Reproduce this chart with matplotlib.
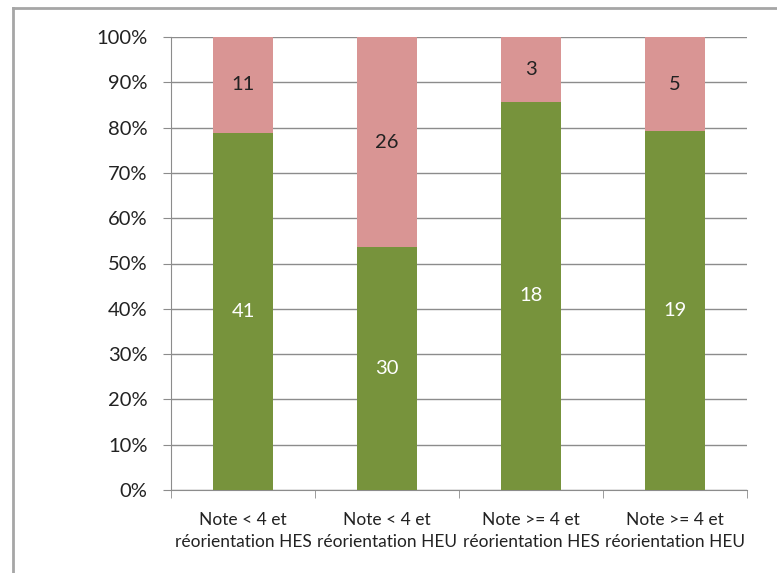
import numpy as np
import matplotlib
matplotlib.use("Agg")
from matplotlib import pyplot as plt
from matplotlib.lines import Line2D

categories = ["Note < 4 et\nréorientation HES", "Note < 4 et\nréorientation HEU",
              "Note >= 4 et\nréorientation HES", "Note >= 4 et\nréorientation HEU"]
oui = np.array([41, 30, 18, 19])
non = np.array([11, 26, 3, 5])
yticks = np.arange(0, 101, 10)

plt.rcParams['font.family'] = ['Lato', 'DejaVu Sans']

total = oui + non
p_oui = oui / total * 100
p_non = non / total * 100

fig = plt.figure(figsize=(7.77, 5.73), dpi=100)
ax = fig.add_axes([171 / 777, 1 - 490 / 573, 576 / 777, 453 / 573])

x = np.arange(len(categories))
b1 = ax.bar(x, p_oui, width=0.41, color="#77933C", zorder=3)
b2 = ax.bar(x, p_non, width=0.41, bottom=p_oui, color="#D99594", zorder=3)

for i in range(len(x)):
    ax.text(x[i], p_oui[i] / 2, str(oui[i]), ha="center", va="center",
            color="white", fontsize=14.5, zorder=4)
    ax.text(x[i], p_oui[i] + p_non[i] / 2, str(non[i]), ha="center", va="center",
            color="#222222", fontsize=14.5, zorder=4)

ax.set_xlim(-0.5, len(x) - 0.5)
ax.set_ylim(0, 100)
ax.set_yticks(yticks)
ax.set_yticklabels([f"{v}%" for v in yticks], fontsize=14.5, color="#222222")
ax.yaxis.grid(True, color="#8c8c8c", linewidth=1, zorder=0)

ax.set_xticks(x)
ax.set_xticklabels(categories, fontsize=12.5, linespacing=1.45, color="#222222")
ax.set_xticks(np.arange(-0.5, len(x)), minor=True)
ax.tick_params(axis="x", which="major", length=0, pad=16)
ax.tick_params(axis="x", which="minor", length=6, color="#8c8c8c", direction="out")
ax.tick_params(axis="y", length=6, color="#8c8c8c", pad=11)

for s in ["top", "right"]:
    ax.spines[s].set_visible(False)
ax.spines["left"].set_color("#8c8c8c")
ax.spines["bottom"].set_color("#8c8c8c")

# cadre gris autour du graphique
fig.add_artist(Line2D([13 / 777, 13 / 777], [0, 1 - 8 / 573], color="#a6a6a6", linewidth=2))
fig.add_artist(Line2D([13 / 777, 1], [1 - 8 / 573, 1 - 8 / 573], color="#a6a6a6", linewidth=2))

fig.savefig("out.png", dpi=100)
